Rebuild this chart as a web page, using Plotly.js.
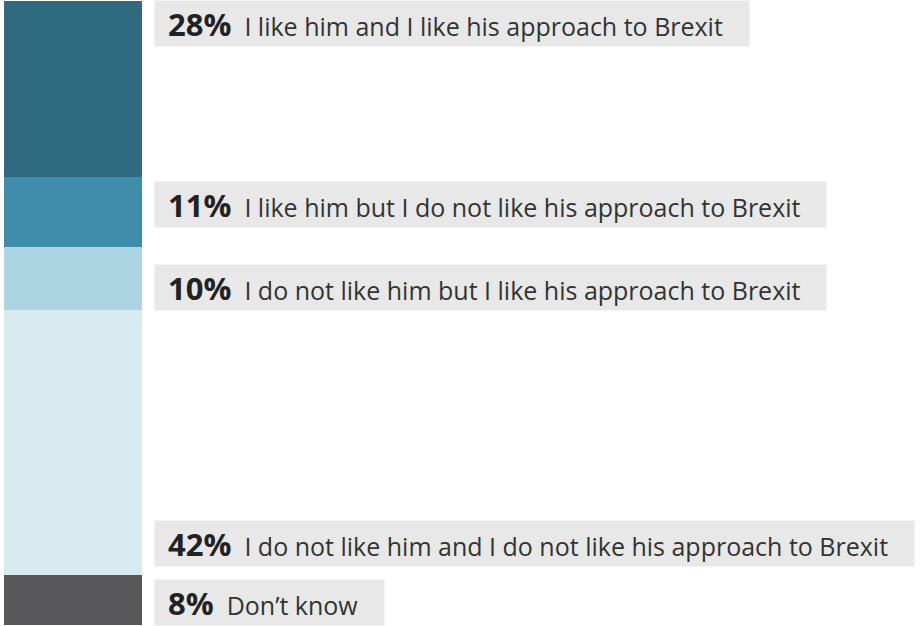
<!DOCTYPE html>
<html>
<head>
<meta charset="utf-8">
<script src="https://cdn.plot.ly/plotly-3.0.1.min.js"></script>
<style>
html,body{margin:0;padding:0;background:#fff;}
#chart{width:921px;height:626px;}
</style>
</head>
<body>
<div id="chart"></div>
<script>
// Data
const categories = [
  "I like him and I like his approach to Brexit",
  "I like him but I do not like his approach to Brexit",
  "I do not like him but I like his approach to Brexit",
  "I do not like him and I do not like his approach to Brexit",
  "Don\u2019t know"
];
const values = [28, 11, 10, 42, 8];
const colors = ["#2f6a80", "#3d8dab", "#acd5e3", "#d6eaf0", "#58585a"];

// Label placement: anchor to segment top or bottom, with small offsets (px, positive = down)
const anchorMode = ["top", "top", "bottom", "bottom", "bottom"];
const offsetPx = [-1, 3.5, 1, -7.6, 1];

const total = values.reduce((a, b) => a + b, 0);

const traces = values.map((v, i) => ({
  type: "bar",
  x: [0],
  y: [v],
  width: 1,
  name: categories[i],
  marker: {color: colors[i], line: {width: 0}},
  hoverinfo: "skip",
  showlegend: false
}));

let cum = 0;
const annotations = values.map((v, i) => {
  const start = cum;
  cum += v;
  const mode = anchorMode[i];
  return {
    xref: "paper", x: 154 / 921, xanchor: "left",
    yref: "y", y: mode === "top" ? start : cum,
    yanchor: mode,
    yshift: -offsetPx[i],
    showarrow: false,
    bgcolor: "#e8e8e8",
    borderpad: 0,
    height: 45,
    valign: "middle",
    align: "left",
    font: {family: "Open Sans, sans-serif", size: 25, color: "#333333"},
    text: "\u00a0\u00a0<span style=\"font-size:31px;font-weight:bold;color:#222222\">" + v + "%</span>\u00a0 " +
      categories[i] + "\u00a0\u00a0\u00a0\u00a0"
  };
});

const pxPerUnit = 624 / total;
const layout = {
  width: 921, height: 626,
  margin: {l: 0, r: 0, t: 0, b: 0, pad: 0},
  paper_bgcolor: "#ffffff", plot_bgcolor: "#ffffff",
  barmode: "stack",
  bargap: 0,
  xaxis: {range: [-0.5 - 4 / 138, -0.5 + 917 / 138], visible: false, fixedrange: true},
  yaxis: {range: [total + 1 / pxPerUnit, -1 / pxPerUnit], visible: false, fixedrange: true},
  annotations: annotations,
  showlegend: false
};

Plotly.newPlot("chart", traces, layout, {displayModeBar: false, staticPlot: true});
</script>
</body>
</html>
